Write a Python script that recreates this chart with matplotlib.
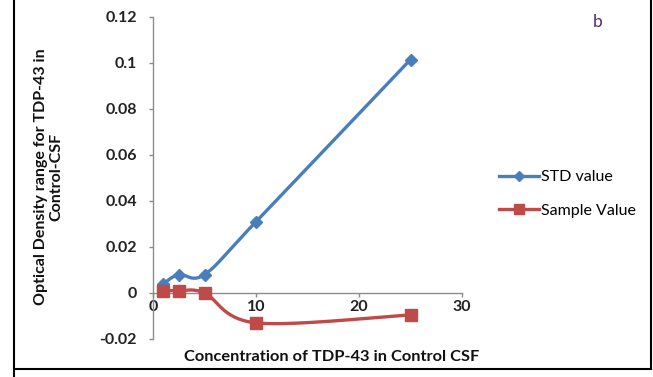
import numpy as np
import matplotlib
matplotlib.use("Agg")
import matplotlib.pyplot as plt
from matplotlib.lines import Line2D

concentration = [1, 2.5, 5, 10, 25]
std_values = [0.004, 0.008, 0.008, 0.031, 0.1015]
sample_values = [0.001, 0.001, 0.0, -0.013, -0.0095]
x_ticks = [0, 10, 20, 30]
y_ticks = [-0.02, 0, 0.02, 0.04, 0.06, 0.08, 0.1, 0.12]
y_tick_labels = ["-0.02", "0", "0.02", "0.04", "0.06", "0.08", "0.1", "0.12"]

plt.rcParams['font.family'] = ['Lato', 'DejaVu Sans']

fig = plt.figure(figsize=(6.53, 3.77), dpi=100)
ax = fig.add_axes([153/653, 1-339/377, (462-153)/653, (339-17)/377])
ax.set_xlim(0, 30)
ax.set_ylim(-0.02, 0.12)


def smooth(xs, ys, sx, sy, n=40):
    # Excel-like smoothed line (Catmull-Rom bezier) computed in scaled space
    px = np.array(xs) / sx
    py = np.array(ys) / sy
    outx, outy = [], []
    m = len(px)
    for i in range(m - 1):
        p0 = np.array([px[max(i-1, 0)], py[max(i-1, 0)]])
        p1 = np.array([px[i], py[i]])
        p2 = np.array([px[i+1], py[i+1]])
        p3 = np.array([px[min(i+2, m-1)], py[min(i+2, m-1)]])
        c1 = p1 + (p2 - p0) / 6
        c2 = p2 - (p3 - p1) / 6
        t = np.linspace(0, 1, n)[:, None]
        b = (1-t)**3*p1 + 3*(1-t)**2*t*c1 + 3*(1-t)*t**2*c2 + t**3*p2
        outx.extend(b[:, 0] * sx)
        outy.extend(b[:, 1] * sy)
    return outx, outy

sx, sy = 30/309, 0.14/322
blue = '#4a7ebb'
red = '#be4b48'
bx, by = smooth(concentration, std_values, sx, sy)
rx, ry = smooth(concentration, sample_values, sx, sy)
ax.plot(bx, by, color=blue, lw=2.4, solid_capstyle='round', zorder=3)
ax.plot(concentration, std_values, ls='none', marker='D', ms=6.5, color=blue, zorder=4)
ax.plot(rx, ry, color=red, lw=2.4, solid_capstyle='round', zorder=3)
ax.plot(concentration, sample_values, ls='none', marker='s', ms=8, color=red, zorder=4)

for s in ['top', 'right']:
    ax.spines[s].set_visible(False)
ax.spines['bottom'].set_position(('data', 0))
for s in ['left', 'bottom']:
    ax.spines[s].set_color('#8c8c8c')
    ax.spines[s].set_linewidth(1.0)
ax.tick_params(axis='both', direction='out', length=3, color='#8c8c8c', width=1.0,
               labelsize=11.5, pad=2)
ax.set_xticks(x_ticks)
ax.set_xticklabels([str(v) for v in x_ticks], fontweight='bold', color='#222222')
ax.set_yticks(y_ticks)
ax.set_yticklabels(y_tick_labels, fontweight='bold', color='#222222')
ax.tick_params(axis='y', pad=8.5)
ax.patch.set_alpha(0)

fig.text(332/653, 1-357/377, 'Concentration of TDP-43 in Control CSF', fontsize=11.8,
         fontweight='bold', ha='center', va='center', color='#111111')
fig.text(49/653, 1-177/377, 'Optical Density range for TDP-43 in\nControl-CSF', rotation=90,
         ha='center', va='center', fontsize=11.5, fontweight='bold', linespacing=1.15,
         multialignment='center', color='#111111')

handles = [Line2D([], [], color=blue, lw=2.4, marker='D', ms=5),
           Line2D([], [], color=red, lw=2.4, marker='s', ms=7)]
fig.legend(handles, ['STD value', 'Sample Value'], loc='center left',
           bbox_to_anchor=(491/653, 1-194/377), frameon=False, fontsize=11.5,
           handlelength=2.5, handletextpad=0.1, labelspacing=1.2, borderpad=0)

fig.text(598/653, 1-22/377, 'b', color='#4b2a7a', fontsize=12.5, ha='center', va='center')

# figure border
fig.add_artist(Line2D([14/653, 14/653], [0, 1], transform=fig.transFigure, color='black', lw=1.5))
fig.add_artist(Line2D([14/653, 651/653], [1-369/377, 1-369/377], transform=fig.transFigure, color='black', lw=1.5))
fig.add_artist(Line2D([651/653, 651/653], [1-369/377, 1], transform=fig.transFigure, color='black', lw=1.5))

fig.savefig('out.png', dpi=100)
